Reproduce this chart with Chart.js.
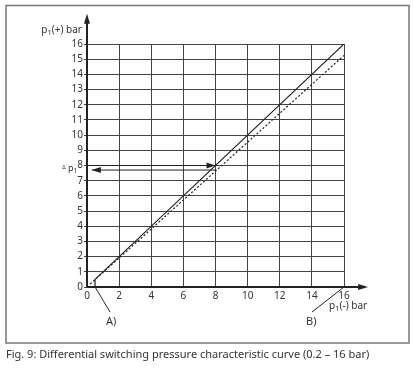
<!DOCTYPE html>
<html>
<head>
<meta charset="utf-8">
<script src="https://cdn.jsdelivr.net/npm/chart.js@4.4.1/dist/chart.umd.min.js"></script>
<style>
  html, body { margin: 0; padding: 0; background: #fff; }
  #wrap { position: relative; width: 413px; height: 372px; }
  #caption {
    position: absolute; left: 6px; top: 346px;
    font: 11px "Noto Sans", sans-serif; color: #333; white-space: nowrap;
  }
</style>
</head>
<body>
<div id="wrap">
  <canvas id="switchChart" width="413" height="372"></canvas>
  <div id="caption">Fig. 9: Differential switching pressure characteristic curve (0.2 – 16 bar)</div>
</div>
<script>
// chart values
const xTicks = [0, 2, 4, 6, 8, 10, 12, 14, 16];
const yTicks = [0, 1, 2, 3, 4, 5, 6, 7, 8, 9, 10, 11, 12, 13, 14, 15, 16];
const curveA = [{x: 0.5, y: 0}, {x: 0.5, y: 0.5}, {x: 16, y: 16}];   // solid
const curveB = [{x: 0.2, y: 0.2}, {x: 16, y: 15.25}];               // dotted
const deltaUpper = [{x: 0, y: 8}, {x: 8, y: 8}];
const deltaLower = [{x: 0.3, y: 7.7}, {x: 8.05, y: 7.7}];

const ink = '#222';
const font = '"Noto Sans", sans-serif';

// extra drawing: axis arrows, labels, leaders, frame
const decorations = {
    id: 'decorations',
    afterDatasetsDraw(chart) {
        const c = chart.ctx;
        const xs = chart.scales.x, ys = chart.scales.y;
        const px = v => xs.getPixelForValue(v);
        const py = v => ys.getPixelForValue(v);

        function arrow(x, y, dir, len, half) {
            c.beginPath();
            if (dir === 'up') { c.moveTo(x, y); c.lineTo(x - half, y + len); c.lineTo(x + half, y + len); }
            if (dir === 'right') { c.moveTo(x, y); c.lineTo(x - len, y - half); c.lineTo(x - len, y + half); }
            if (dir === 'left') { c.moveTo(x, y); c.lineTo(x + len, y - half); c.lineTo(x + len, y + half); }
            c.closePath();
            c.fill();
        }

        c.save();
        c.strokeStyle = ink;
        c.fillStyle = ink;

        // axes
        c.lineWidth = 2;
        c.beginPath();
        c.moveTo(px(0), py(0)); c.lineTo(px(0), py(17.4));
        c.moveTo(px(0), py(0)); c.lineTo(px(17.2), py(0));
        c.stroke();
        arrow(px(0), py(18), 'up', 10, 3);
        arrow(px(17.5), py(0), 'right', 10, 3);

        // delta p arrow heads
        arrow(px(8), py(8), 'right', 9, 3);
        arrow(px(0.3), py(7.7), 'left', 9, 3);

        // leaders for A) and B)
        c.lineWidth = 1;
        c.beginPath();
        c.moveTo(px(0.5), py(0)); c.lineTo(px(0.5) + 15, py(0) + 25);
        c.moveTo(px(16), py(0)); c.lineTo(px(16) - 32, py(0) + 25);
        c.stroke();

        c.textBaseline = 'middle';
        c.fillStyle = '#333';
        c.font = '11px ' + font;
        c.textAlign = 'left';
        c.fillText('A)', px(0.5) + 11, py(0) + 35);
        c.fillText('B)', px(16) - 38, py(0) + 35);

        // text with subscript 1
        function sub(parts, x, y, size) {
            c.textAlign = 'left';
            let cx = x;
            parts.forEach(p => {
                c.font = (p.s ? size * 0.75 : size) + 'px ' + font;
                c.fillText(p.t, cx, y + (p.s ? 3 : 0));
                cx += c.measureText(p.t).width;
            });
            return cx - x;
        }
        function width(parts, size) {
            let w = 0;
            parts.forEach(p => {
                c.font = (p.s ? size * 0.75 : size) + 'px ' + font;
                w += c.measureText(p.t).width;
            });
            return w;
        }
        const yTitle = [{t: 'p'}, {t: '1', s: true}, {t: '(+) bar'}];
        sub(yTitle, px(0) - 5 - width(yTitle, 10), 30, 10);
        sub([{t: 'p'}, {t: '1', s: true}, {t: '(-) bar'}], 329, 306, 10);
        c.font = '6px ' + font;
        c.fillText('Δ', 62, py(7.85));
        sub([{t: 'p'}, {t: '1', s: true}], 68, py(7.8), 9);

        // outer frame
        c.strokeStyle = '#777';
        c.lineWidth = 1.5;
        c.strokeRect(6, 5.5, 403, 337.5);
        c.restore();
    }
};

const ctx = document.getElementById('switchChart').getContext('2d');
new Chart(ctx, {
    type: 'scatter',
    data: {
        datasets: [
            { data: curveA, showLine: true, borderColor: ink, borderWidth: 1.2, pointRadius: 0 },
            { data: curveB, showLine: true, borderColor: ink, borderWidth: 1.2, borderDash: [2, 2], pointRadius: 0 },
            { data: deltaUpper, showLine: true, borderColor: ink, borderWidth: 1, pointRadius: 0 },
            { data: deltaLower, showLine: true, borderColor: ink, borderWidth: 1, pointRadius: 0 }
        ]
    },
    options: {
        responsive: false,
        animation: false,
        layout: { padding: { left: 40, top: 44, right: 69, bottom: 0 } },
        plugins: { legend: { display: false }, tooltip: { enabled: false } },
        scales: {
            x: {
                type: 'linear', min: 0, max: 16,
                afterFit: s => { s.height = 85; },
                afterBuildTicks: s => { s.ticks = xTicks.map(v => ({value: v})); },
                grid: { color: '#444', lineWidth: 1, drawTicks: false },
                border: { display: false },
                ticks: { color: '#333', font: { family: font, size: 10 }, padding: 3, maxRotation: 0 }
            },
            y: {
                type: 'linear', min: 0, max: 16,
                afterFit: s => { s.width = 47; },
                afterBuildTicks: s => { s.ticks = yTicks.map(v => ({value: v})); },
                grid: { color: '#444', lineWidth: 1, tickLength: 3 },
                border: { display: false },
                ticks: { color: '#333', font: { family: font, size: 10 }, padding: 1 }
            }
        }
    },
    plugins: [decorations]
});
</script>
</body>
</html>
